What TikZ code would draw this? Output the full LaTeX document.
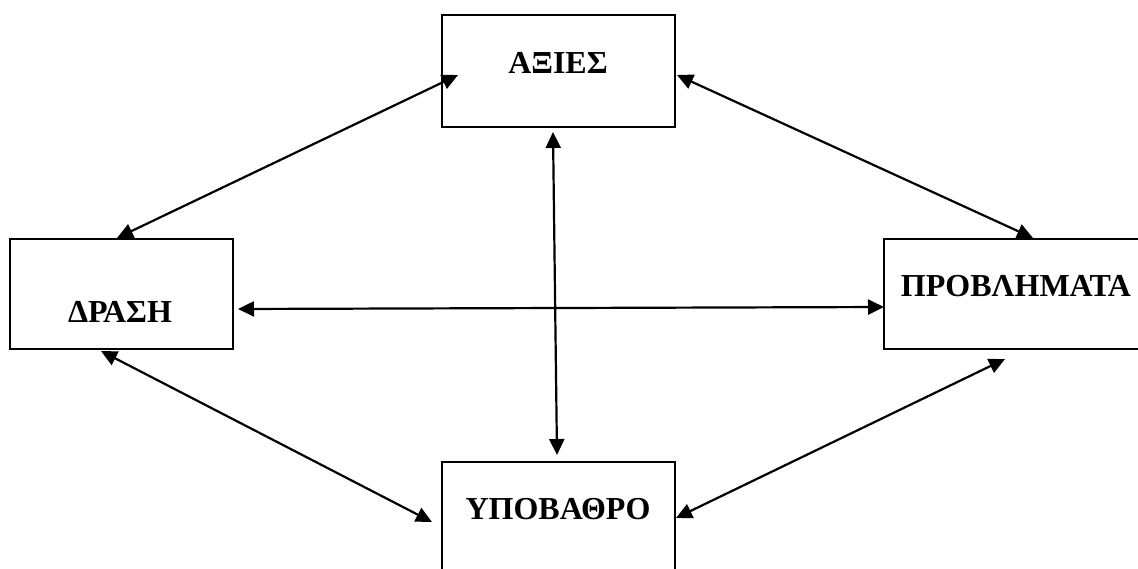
\documentclass[tikz,border=0pt]{standalone}
\usepackage{fontspec}
\setmainfont{Liberation Serif}
\usetikzlibrary{arrows.meta}
\tikzset{
  box/.style={draw, line width=2.2pt, rectangle, inner sep=0pt, outer sep=0pt},
  word/.style={font=\fontsize{32}{38}\selectfont\bfseries, inner sep=0pt, anchor=center},
  link/.style={line width=2.2pt, {Triangle[length=16pt,width=15pt]}-{Triangle[length=16pt,width=15pt]}}
}
\begin{document}
\begin{tikzpicture}[x=1pt, y=-1pt]
  \useasboundingbox (0,0) rectangle (1138,568);
  \clip (0,0) rectangle (1138,568);
  \fill[white] (0,0) rectangle (1138,568);

  % boxes
  \node[box, minimum width=233pt, minimum height=112pt] (axies) at (558.5,71) {};
  \node[box, minimum width=223pt, minimum height=110pt] (drasi) at (121.5,294) {};
  \node[box, minimum width=270pt, minimum height=110pt] (provl) at (1019,294) {};
  \node[box, minimum width=233pt, minimum height=130pt] (ypov) at (558.5,527) {};

  % labels
  \node[word] (taxies) at (558,63) {ΑΞΙΕΣ};
  \node[word] (tdrasi) at (120,312) {ΔΡΑΣΗ};
  \node[word] (tprovl) at (1016,286) {ΠΡΟΒΛΗΜΑΤΑ};
  \node[word] (typov) at (558,509) {ΥΠΟΒΑΘΡΟ};

  % connector ends
  \coordinate (aL) at (458,75);
  \coordinate (aR) at (677,75);
  \coordinate (aB) at (553,132);
  \coordinate (dT) at (117,238);
  \coordinate (dR) at (238,309);
  \coordinate (dB) at (101,351);
  \coordinate (pT) at (1033,238);
  \coordinate (pL) at (884,307);
  \coordinate (pB) at (1005,359);
  \coordinate (yT) at (557,455);
  \coordinate (yL) at (432,522);
  \coordinate (yR) at (676,518);

  % connectors
  \draw[link] (aL) -- (dT);
  \draw[link] (aR) -- (pT);
  \draw[link] (aB) -- (yT);
  \draw[link] (dR) -- (pL);
  \draw[link] (dB) -- (yL);
  \draw[link] (pB) -- (yR);
\end{tikzpicture}
\end{document}
